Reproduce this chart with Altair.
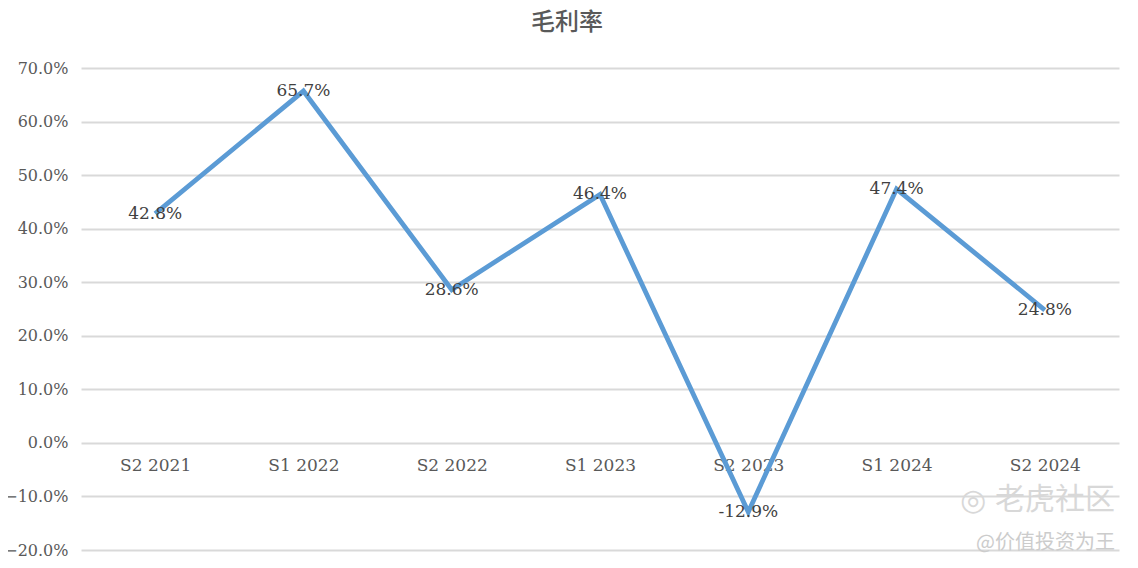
import altair as alt
import pandas as pd

periods = ["S2 2021", "S1 2022", "S2 2022", "S1 2023", "S2 2023", "S1 2024", "S2 2024"]
margins = [0.428, 0.657, 0.286, 0.464, -0.129, 0.474, 0.248]
labels = ["42.8%", "65.7%", "28.6%", "46.4%", "-12.9%", "47.4%", "24.8%"]
title_text = "毛利率"

df = pd.DataFrame({"period": periods, "value": margins, "label": labels})

W, H = 1038, 482
FONT = "DejaVu Serif"

x = alt.X("period:N", sort=periods, title=None,
          scale=alt.Scale(paddingInner=0, paddingOuter=0),
          axis=alt.Axis(orient="bottom", offset=-107, domain=False, ticks=False,
                        labelAngle=0, labelPadding=14, labelFont=FONT,
                        labelFontSize=17, labelColor="#595959", grid=False))
y = alt.Y("value:Q", title=None,
          scale=alt.Scale(domain=[-0.2, 0.7], nice=False, zero=False),
          axis=alt.Axis(format=".1%", values=[-0.2, -0.1, 0, 0.1, 0.2, 0.3, 0.4, 0.5, 0.6, 0.7],
                        domain=False, ticks=False, labelPadding=13, labelFont=FONT,
                        labelFontSize=16, labelColor="#595959",
                        gridColor="#d9d9d9", gridWidth=2))

base = alt.Chart(df)
line = base.mark_line(color="#5b9bd5", strokeWidth=4.8, strokeCap="butt").encode(x=x, y=y)
text = base.mark_text(font=FONT, fontSize=17, color="#404040", align="center",
                      baseline="middle").encode(x=alt.X("period:N", sort=periods),
                                                y="value:Q", text="label:N")

ttl = alt.Chart(pd.DataFrame({"t": [title_text]})).mark_text(
    font="Noto Sans CJK SC", fontSize=24, fontWeight=500, color="#595959",
    align="center", baseline="middle"
).encode(x=alt.value(486), y=alt.value(-45), text="t:N")

wm1 = alt.Chart(pd.DataFrame({"t": ["老虎社区"]})).mark_text(
    font="Noto Sans CJK SC", fontSize=30, color="#d8d8d8", align="right", baseline="middle"
).encode(x=alt.value(1034), y=alt.value(432), text="t:N")
wm0 = alt.Chart(pd.DataFrame({"t": ["◎"]})).mark_text(
    font="DejaVu Sans", fontSize=30, color="#d8d8d8", align="center", baseline="middle"
).encode(x=alt.value(892), y=alt.value(433), text="t:N")
wm2 = alt.Chart(pd.DataFrame({"t": ["@价值投资为王"]})).mark_text(
    font="Noto Sans CJK SC", fontSize=20, color="#cccccc", align="right", baseline="middle"
).encode(x=alt.value(1034), y=alt.value(475), text="t:N")

chart = alt.layer(line, text, ttl, wm0, wm1, wm2).properties(
    width=W, height=H,
    background="white",
    autosize=alt.AutoSizeParams(type="none"),
    padding={"left": 73, "top": 60, "right": 11, "bottom": 18},
).configure_view(stroke=None, strokeWidth=0)

chart.save("out.html", embed_options={"renderer": "svg", "actions": False})
